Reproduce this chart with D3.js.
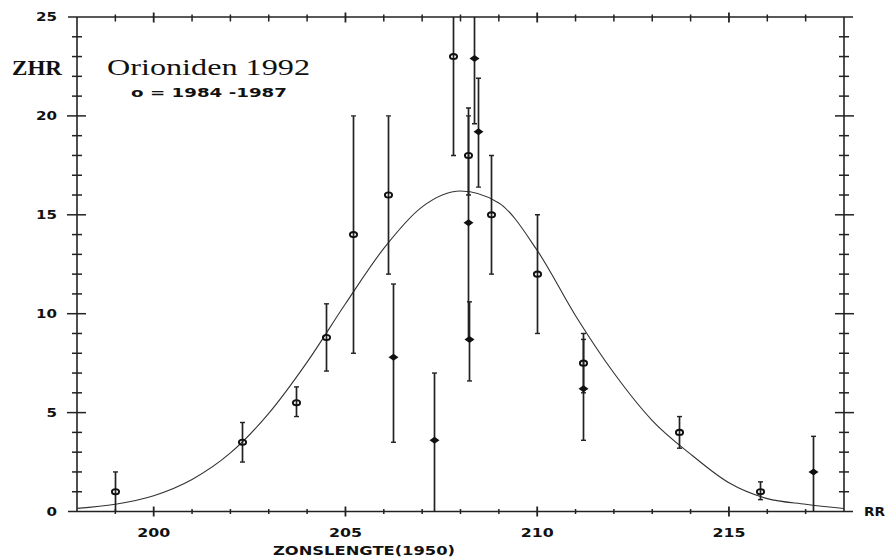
<!DOCTYPE html>
<html>
<head>
<meta charset="utf-8">
<script src="https://cdn.jsdelivr.net/npm/d3@7"></script>
<style>
  html, body { margin: 0; padding: 0; background: #fff; }
  svg { display: block; }
  .num { font-family: "DejaVu Sans", sans-serif; font-weight: bold; font-size: 11.5px; fill: #111; }
</style>
</head>
<body>
<svg id="chart" width="885" height="559"></svg>
<script>
// Orionids 1992 – ZHR versus solar longitude (1950.0)

// 1984–1987 observations (open circles)
const oldX  = [199.0, 202.3, 203.7, 204.5, 205.2, 206.1, 207.8, 208.2, 208.8, 210.0, 211.2, 213.7, 215.8];
const oldY  = [1.0,   3.5,   5.5,   8.8,   14.0,  16.0,  23.0,  18.0,  15.0,  12.0,  7.5,   4.0,   1.0];
const oldLo = [0.0,   2.5,   4.8,   7.1,   8.0,   12.0,  18.0,  16.0,  12.0,  9.0,   6.0,   3.2,   0.6];
const oldHi = [2.0,   4.5,   6.3,   10.5,  20.0,  20.0,  28.0,  20.4,  18.0,  15.0,  9.0,   4.8,   1.5];

// 1992 observations (filled diamonds)
const newX  = [206.25, 207.3, 208.2, 208.23, 208.36, 208.45, 211.2, 217.2];
const newY  = [7.8,    3.6,   14.6,  8.7,    22.9,   19.2,   6.2,   2.0];
const newLo = [3.5,    0.0,   8.7,   6.6,    19.6,   16.4,   3.6,   0.0];
const newHi = [11.5,   7.0,   20.0,  10.6,   26.2,   21.9,   8.7,   3.8];

// Mean activity profile
const curveX = [198, 199, 200, 201, 202, 203, 204, 205, 206, 207, 208, 209, 210, 211, 212, 213, 214, 215, 216, 217, 218];
const curveY = [0.16, 0.37, 0.8, 1.62, 2.96, 4.96, 7.55, 10.5, 13.3, 15.4, 16.2, 15.6, 13.2, 9.9, 7.0, 4.6, 2.9, 1.45, 0.65, 0.37, 0.15];

// Axis ticks and labels
const xMajor = [200, 205, 210, 215];
const yMajor = [0, 5, 10, 15, 20, 25];
const xTitle = "ZONSLENGTE(1950)";
const yTitle = "ZHR";
const title = "Orioniden 1992";
const legendText = "o = 1984 -1987";
const xEndLabel = "RR";

const svg = d3.select("#chart");
const x = d3.scaleLinear().domain([198, 218]).range([77, 844]);
const y = d3.scaleLinear().domain([0, 25]).range([511.5, 17]);

const ink = "#222";
const g = svg.append("g");

// frame lines
g.append("line").attr("x1", 68).attr("x2", 853).attr("y1", y(0)).attr("y2", y(0)).attr("stroke", ink).attr("stroke-width", 1.6);
g.append("line").attr("x1", 68).attr("x2", 853).attr("y1", y(25)).attr("y2", y(25)).attr("stroke", ink).attr("stroke-width", 1.6);
g.append("line").attr("x1", x(198)).attr("x2", x(198)).attr("y1", y(25)).attr("y2", y(0)).attr("stroke", ink).attr("stroke-width", 1.6);
g.append("line").attr("x1", x(218)).attr("x2", x(218)).attr("y1", y(25)).attr("y2", y(0)).attr("stroke", ink).attr("stroke-width", 1.6);

// x ticks (every unit, longer at multiples of 5), bottom and top
const xTicks = d3.range(199, 218);
xTicks.forEach(v => {
  const major = v % 5 === 0;
  const px = x(v);
  g.append("line").attr("x1", px).attr("x2", px)
    .attr("y1", y(0) - (major ? 5 : 2.5)).attr("y2", y(0) + (major ? 5 : 2.5))
    .attr("stroke", ink).attr("stroke-width", major ? 1.8 : 1.5);
  g.append("line").attr("x1", px).attr("x2", px)
    .attr("y1", y(25) - (major ? 4.5 : 2.5)).attr("y2", y(25) + (major ? 5.5 : 4.5))
    .attr("stroke", ink).attr("stroke-width", major ? 1.8 : 1.5);
});

// y ticks (every unit, longer at multiples of 5), left and right
const yTicks = d3.range(1, 25);
yTicks.forEach(v => {
  const major = v % 5 === 0;
  const py = y(v);
  g.append("line").attr("x1", x(198) - (major ? 10 : 5)).attr("x2", x(198) + (major ? 9 : 5))
    .attr("y1", py).attr("y2", py).attr("stroke", ink).attr("stroke-width", 1.5);
  g.append("line").attr("x1", x(218) - (major ? 9 : 5)).attr("x2", x(218) + (major ? 10 : 5))
    .attr("y1", py).attr("y2", py).attr("stroke", ink).attr("stroke-width", 1.5);
});

// tick labels
yMajor.forEach(v => {
  const s = String(v);
  svg.append("text").attr("class", "num")
    .attr("x", 57).attr("y", y(v) + 4).attr("text-anchor", "end")
    .attr("textLength", s.length * 10.5).attr("lengthAdjust", "spacingAndGlyphs")
    .text(s);
});
xMajor.forEach(v => {
  const s = String(v);
  svg.append("text").attr("class", "num")
    .attr("x", x(v)).attr("y", 536.5).attr("text-anchor", "middle")
    .attr("textLength", s.length * 11).attr("lengthAdjust", "spacingAndGlyphs")
    .text(s);
});

// axis titles
svg.append("text").attr("class", "num")
  .attr("x", 273).attr("y", 555)
  .attr("textLength", 182).attr("lengthAdjust", "spacingAndGlyphs")
  .text(xTitle);
svg.append("text").attr("class", "num")
  .attr("x", 864).attr("y", 515.5)
  .attr("textLength", 21).attr("lengthAdjust", "spacingAndGlyphs")
  .text(xEndLabel);
svg.append("text")
  .attr("x", 12).attr("y", 74.5)
  .attr("font-family", "Liberation Serif, serif").attr("font-weight", "bold").attr("font-size", 21)
  .attr("textLength", 50).attr("lengthAdjust", "spacingAndGlyphs")
  .attr("fill", "#111").text(yTitle);

// chart title and legend note
svg.append("text")
  .attr("x", 107).attr("y", 75)
  .attr("font-family", "Liberation Serif, serif").attr("font-size", 23)
  .attr("textLength", 203).attr("lengthAdjust", "spacingAndGlyphs")
  .attr("fill", "#111").text(title);
svg.append("text").attr("class", "num")
  .attr("x", 131).attr("y", 97)
  .attr("font-size", 12)
  .attr("textLength", 156).attr("lengthAdjust", "spacingAndGlyphs")
  .text(legendText);

// plotting area clip so error bars stop at the frame
svg.append("defs").append("clipPath").attr("id", "plot")
  .append("rect").attr("x", x(198)).attr("y", y(25)).attr("width", x(218) - x(198)).attr("height", y(0) - y(25));
const plot = svg.append("g").attr("clip-path", "url(#plot)");

// profile curve
const line = d3.line().x((d, i) => x(curveX[i])).y(d => y(d)).curve(d3.curveMonotoneX);
plot.append("path").datum(curveY).attr("d", line)
  .attr("fill", "none").attr("stroke", "#333").attr("stroke-width", 1.1);

// error bars
function errorBars(xs, los, his) {
  xs.forEach((xv, i) => {
    const px = Math.round(x(xv)) + 0.5;
    plot.append("line").attr("x1", px).attr("x2", px)
      .attr("y1", y(his[i])).attr("y2", y(los[i]))
      .attr("stroke", ink).attr("stroke-width", 1.7);
    [los[i], his[i]].forEach(v => {
      if (v > 0 && v < 25) {
        plot.append("line").attr("x1", px - 2.5).attr("x2", px + 2.5)
          .attr("y1", y(v)).attr("y2", y(v)).attr("stroke", ink).attr("stroke-width", 1.4);
      }
    });
  });
}
errorBars(oldX, oldLo, oldHi);
errorBars(newX, newLo, newHi);

// open circles (1984–1987)
oldX.forEach((xv, i) => {
  plot.append("ellipse")
    .attr("cx", Math.round(x(xv)) + 0.5).attr("cy", y(oldY[i]))
    .attr("rx", 3.6).attr("ry", 2.6)
    .attr("fill", "none").attr("stroke", "#111").attr("stroke-width", 1.9);
});

// filled diamonds (1992)
const diamond = (cx, cy) => `M${cx - 5},${cy} L${cx},${cy - 3.5} L${cx + 5},${cy} L${cx},${cy + 3.5} Z`;
newX.forEach((xv, i) => {
  plot.append("path")
    .attr("d", diamond(Math.round(x(xv)) + 0.5, y(newY[i])))
    .attr("fill", "#111");
});
</script>
</body>
</html>
